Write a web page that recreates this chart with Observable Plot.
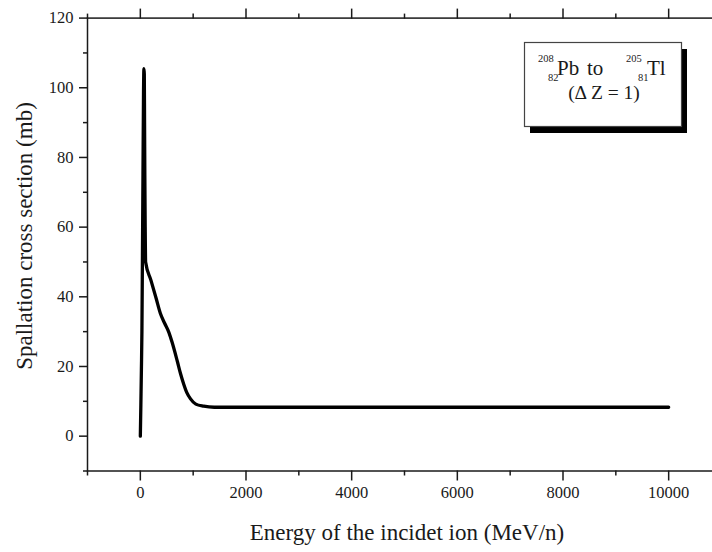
<!DOCTYPE html>
<html><head><meta charset="utf-8">
<script src="https://cdn.jsdelivr.net/npm/d3@7"></script>
<script src="https://cdn.jsdelivr.net/npm/@observablehq/plot@0.6"></script>
<style>
html,body{margin:0;padding:0;background:#fff;overflow:hidden;width:712px;height:552px}
#chart svg{max-width:none !important}
</style></head><body><div id="chart"></div>
<script>
// Data
const energy = [0, 10, 20, 30, 40, 50, 60, 68, 75, 80, 85, 92, 100, 200, 300, 380, 460, 540, 600, 700, 760, 820, 880, 950, 1050, 1200, 1400, 2000, 10000];
const sigma  = [0, 9, 19, 30, 52, 75, 98, 105.5, 104, 90, 75, 60, 50, 44.8, 39.5, 35.2, 32.4, 29.8, 27, 21.5, 18, 15, 12.5, 10.7, 9.2, 8.6, 8.3, 8.3, 8.3];
const xMajorTicks = [0, 2000, 4000, 6000, 8000, 10000];
const xMinorTicks = [-1000, 1000, 3000, 5000, 7000, 9000];
const yMajorTicks = [0, 20, 40, 60, 80, 100, 120];
const yMinorTicks = [-10, 10, 30, 50, 70, 90, 110];
const xLabel = "Energy of the incidet ion (MeV/n)";
const yLabel = "Spallation cross section (mb)";

const data = energy.map((e, i) => ({e, s: sigma[i]}));
const ink = "#1a1a1a";
const serif = "'Liberation Serif', 'Times New Roman', serif";

const plot = Plot.plot({
  width: 721, height: 552,
  marginLeft: 87, marginRight: 0, marginTop: 17.6, marginBottom: 81.5,
  style: {fontFamily: serif, fontSize: "16px", color: ink, background: "#fff", overflow: "visible", maxWidth: "none"},
  x: {domain: [-1000, 11000]},
  y: {domain: [-10, 120]},
  marks: [
    Plot.axisX({ticks: xMajorTicks, tickSize: 10, tickPadding: 5, tickFormat: d => String(d), label: null, strokeWidth: 1.5, fontSize: 16.5}),
    Plot.axisX({ticks: xMinorTicks, tickSize: 5, tickFormat: () => "", label: null, strokeWidth: 1.5}),
    Plot.axisX({anchor: "top", ticks: xMajorTicks, tickSize: 10, tickFormat: () => "", label: null, strokeWidth: 1.5}),
    Plot.axisX({anchor: "top", ticks: xMinorTicks, tickSize: 5, tickFormat: () => "", label: null, strokeWidth: 1.5}),
    Plot.axisY({ticks: yMajorTicks, tickSize: 8, tickPadding: 6, tickFormat: d => String(d), label: null, strokeWidth: 1.5, fontSize: 16.5}),
    Plot.axisY({ticks: yMinorTicks, tickSize: 4, tickFormat: () => "", label: null, strokeWidth: 1.5}),
    Plot.frame({stroke: ink, strokeWidth: 1.5}),
    Plot.line(data, {x: "e", y: "s", stroke: "#000", strokeWidth: 3.3, curve: "monotone-x"})
  ]
});
document.getElementById("chart").appendChild(plot);

const svg = d3.select(plot);
// axis titles
svg.append("text").attr("x", 407).attr("y", 540).attr("text-anchor", "middle")
  .attr("font-family", serif).attr("font-size", 23).attr("fill", ink).text(xLabel);
svg.append("text").attr("transform", "translate(32,236) rotate(-90)").attr("text-anchor", "middle")
  .attr("font-family", serif).attr("font-size", 23).attr("fill", ink).text(yLabel);

// legend box with shadow
const g = svg.append("g").attr("font-family", serif).attr("fill", ink);
g.append("rect").attr("x", 530).attr("y", 49).attr("width", 157).attr("height", 84).attr("fill", "#000");
g.append("rect").attr("x", 524.5).attr("y", 42.5).attr("width", 157).attr("height", 84).attr("fill", "#fff").attr("stroke", "#444").attr("stroke-width", 1.2);
const t = (x, y, s, txt, anchor = "start") => g.append("text").attr("x", x).attr("y", y).attr("font-size", s).attr("text-anchor", anchor).text(txt);
t(538, 62, 10.5, "208");
t(548, 81, 10.5, "82");
t(557, 75, 21, "Pb");
t(587, 75, 21, "to");
t(626, 62, 10.5, "205");
t(638, 81, 10.5, "81");
t(647, 75, 21, "Tl");
t(604, 99, 19.5, "(\u0394 Z = 1)", "middle");
</script></body></html>
